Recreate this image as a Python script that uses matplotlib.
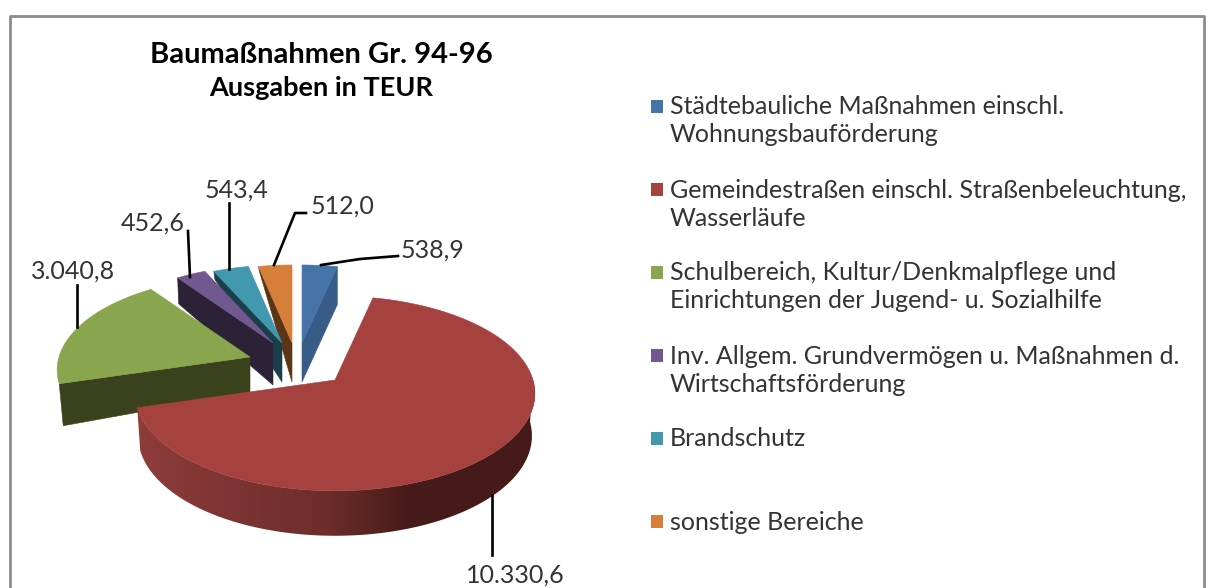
import numpy as np
import matplotlib
matplotlib.use('Agg')
import matplotlib.pyplot as plt
from matplotlib.patches import Polygon

plt.rcParams['font.family'] = ['Lato', 'DejaVu Sans']

# data
values = [538.9, 10330.6, 3040.8, 452.6, 543.4, 512.0]
value_labels = ['538,9', '10.330,6', '3.040,8', '452,6', '543,4', '512,0']
legend_labels = ['Städtebauliche Maßnahmen einschl.\nWohnungsbauförderung',
                 'Gemeindestraßen einschl. Straßenbeleuchtung,\nWasserläufe',
                 'Schulbereich, Kultur/Denkmalpflege und\nEinrichtungen der Jugend- u. Sozialhilfe',
                 'Inv. Allgem. Grundvermögen u. Maßnahmen d.\nWirtschaftsförderung',
                 'Brandschutz',
                 'sonstige Bereiche']
title_lines = ['Baumaßnahmen Gr. 94-96', 'Ausgaben in TEUR']

# styles
top_colors = ['#4673a8', '#a5423f', '#89a54e', '#71588f', '#4198af', '#d67f3b']
wall_colors = ['#375c88', '#451a18', '#39421c', '#2c2238', '#1b3f4a', '#5a3617']

# layout, in figure pixels
apex = [(302, 343), (335, 380), (250, 357), (273, 343), (282, 343), (292, 343)]
radius_scale = [0.92, 0.99, 0.955, 0.92, 0.92, 0.92]
apex_depth = [39, 42, 35, 42, 39, 39]
end_depth = [38, 42, 42, 26, 8, 5]
end_shift = [0, 0, 4, 1, 1, 1]
leaders = [[(321, 265), (360, 259), (398, 256)],
           [(492, 495), (492, 555)],
           [(77, 327), (77, 285)],
           [(190, 277), (188, 231)],
           [(229, 269), (229, 203)],
           [(274, 265), (295, 213), (306, 213)]]
label_pos = [(433, 250), (515, 575), (73, 271), (153, 223), (236, 190), (342, 206)]
legend_y = [106, 189, 272, 355, 438, 521]
RX, RY, K = 200, 96.5, 0.138

fig = plt.figure(figsize=(12.12, 5.88), dpi=100)
ax = fig.add_axes([0, 0, 1, 1])
ax.axis('off')


def project(deg, i):
    t = np.radians(deg)
    w = 1 + K * np.cos(t)
    x = apex[i][0] + radius_scale[i] * RX * np.sin(t) / w
    y = apex[i][1] - radius_scale[i] * RY * np.cos(t) / w
    return x, y


# frame
ax.plot([10, 10, 1204, 1204], [588, 16, 16, 588], color='#8c8c8c', lw=2, zorder=1)

edges = np.concatenate([[0], np.cumsum(values)]) / np.sum(values) * 360
draw_order = [0, 5, 4, 3, 2, 1]

for n, i in enumerate(draw_order):
    a0, a1 = edges[i], edges[i + 1]
    z = 2 + n
    xa, ya = apex[i]
    if i == 1:
        # outer wall of the big slice, gradient clipped to its outline
        angs = np.linspace(90, a1, 200)
        xt, yt = project(angs, i)
        depth = 42 * (1 - 0.07 * np.cos(np.radians(angs)))
        xb = xa + 0.985 * (xt - xa)
        yb = yt + depth
        wall = Polygon(np.c_[np.r_[xt, xb[::-1]], np.r_[yt, yb[::-1]]], closed=True,
                       facecolor='none', edgecolor='none', transform=ax.transData)
        ax.add_patch(wall)
        xs = np.linspace(130, 540, 410)
        stops = [130, 330, 410, 540]
        grad = np.stack([np.interp(xs, stops, [0x8f, 0x6c, 0x47, 0x45]),
                         np.interp(xs, stops, [0x3d, 0x2c, 0x1b, 0x1a]),
                         np.interp(xs, stops, [0x3b, 0x2a, 0x19, 0x18])], axis=-1) / 255
        im = ax.imshow(grad[np.newaxis, :, :], extent=(130, 540, 560, 380), aspect='auto',
                       interpolation='bilinear', zorder=z)
        im.set_clip_path(wall)
    else:
        # flat cut face seen from the front
        wall_ang = a1 if i == 0 else a0
        xe, ye = project(wall_ang, i)
        ax.fill([xa, xe, xe + end_shift[i], xa],
                [ya, ye, ye + end_depth[i], ya + apex_depth[i]],
                color=wall_colors[i], lw=0.4, zorder=z)
    angs = np.linspace(a0, a1, 120)
    px, py = project(angs, i)
    ax.fill(np.r_[xa, px], np.r_[ya, py], color=top_colors[i], lw=0.4, zorder=z + 0.5)

# leader lines and value labels
for pts, lab, pos in zip(leaders, value_labels, label_pos):
    ax.plot([p[0] for p in pts], [p[1] for p in pts], color='black', lw=1.9, zorder=20)
    ax.text(pos[0], pos[1], lab, fontsize=18, color='#333333', ha='center', va='center', zorder=21)

# title
ax.text(321, 55, title_lines[0], fontsize=21, fontweight='bold', color='black', ha='center', va='center')
ax.text(321, 88, title_lines[1], fontsize=19.5, fontweight='bold', color='black', ha='center', va='center')

# legend
for lab, y, col in zip(legend_labels, legend_y, top_colors):
    ax.fill([651, 663, 663, 651], [y - 6.5, y - 6.5, y + 6.5, y + 6.5], color=col, lw=0)
    for k, line in enumerate(lab.split('\n')):
        ax.text(670, y + 1 + k * 28, line, fontsize=18, color='#333333', ha='left', va='center')

ax.set_xlim(0, 1212)
ax.set_ylim(588, 0)
fig.savefig('out.png', dpi=100)
